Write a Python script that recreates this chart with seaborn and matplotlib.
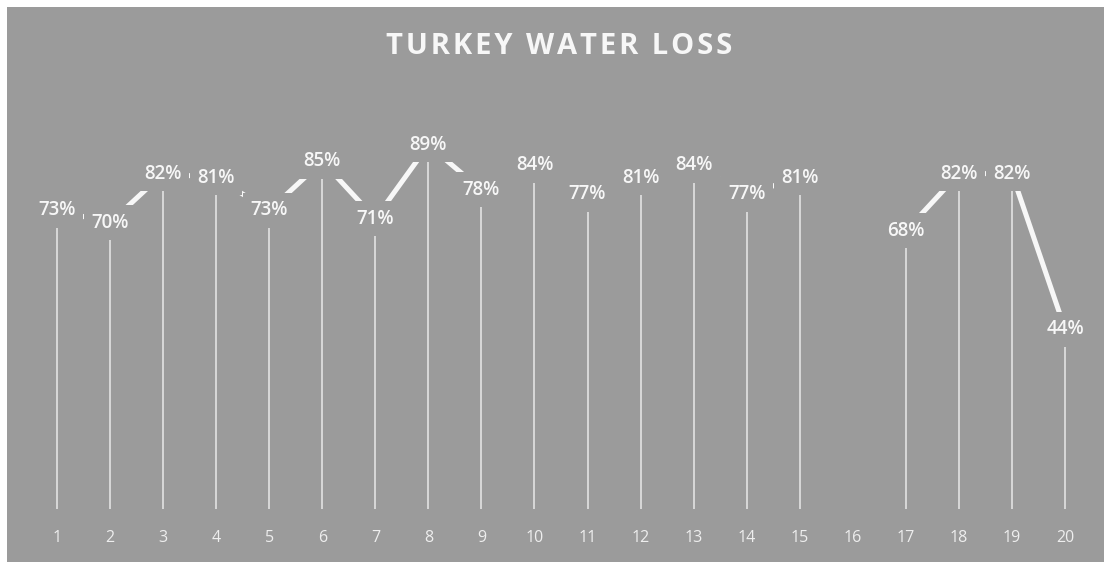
import numpy as np
import pandas as pd
import matplotlib
matplotlib.use("Agg")
import matplotlib.pyplot as plt
from matplotlib.patches import Rectangle
import seaborn as sns

# ---- data ----
categories = list(range(1, 21))
loss_pct = [73, 70, 82, 81, 73, 85, 71, 89, 78, 84, 77, 81, 84, 77, 81, np.nan, 68, 82, 82, 44]
tick_labels = [str(c) for c in categories]
title = "TURKEY WATER LOSS"

BG = "#9b9b9b"
WHITE = "#f7f7f7"

sns.set_theme(style="white")
plt.rcParams['font.family'] = ['Open Sans', 'DejaVu Sans']

W, H = 1108, 562
fig = plt.figure(figsize=(W / 100, H / 100), dpi=100, facecolor="white")
fig.patches.append(Rectangle((7 / W, 0), (W - 11) / W, (H - 7) / H,
                             transform=fig.transFigure, facecolor=BG,
                             edgecolor="none", zorder=-10))
ax = fig.add_axes([0, 0, 1, 1])
ax.set_facecolor("none")

# pixel mapping: x=1 at 57px, spacing 53.05px; y: 0% at 509px, 4.09 px/unit
px_x = 53.05
ax.set_xlim(1 - 57 / px_x, 20 + (W - 1065) / px_x)
px_y = 4.09
ax.set_ylim(-(H - 509) / px_y, 509 / px_y)

df = pd.DataFrame({"cat": categories, "val": loss_pct})
# contiguous segments so that the missing value breaks the line
df["seg"] = df["val"].isna().cumsum()
dfl = df.dropna()

# drop lines
ax.vlines(dfl["cat"], 0, dfl["val"], color="#e2e2e2", lw=1.2, zorder=1)

sns.lineplot(data=dfl, x="cat", y="val", units="seg", estimator=None,
             color=WHITE, lw=3.6, ax=ax, zorder=2, legend=False)

for c, v in zip(dfl["cat"], dfl["val"]):
    ax.text(c, v, f"{int(v)}%", ha="center", va="center", fontsize=13.5,
            fontweight="semibold", color=WHITE, zorder=3,
            bbox=dict(boxstyle="square,pad=0.4", facecolor=BG, edgecolor="none"))

tick_y = -(538 - 509) / px_y
for c, lab in zip(categories, tick_labels):
    ax.text(c, tick_y, lab, ha="center", va="center", fontsize=11.5,
            color="#eeeeee", zorder=3)

ax.set_xticks([])
ax.set_yticks([])
ax.set_xlabel("")
ax.set_ylabel("")
for s in ax.spines.values():
    s.set_visible(False)

fig.text(559.5 / W, 1 - 47 / H, "\u200a".join(title), ha="center", va="center",
         fontsize=21, fontweight="bold", color=WHITE)

fig.savefig("out.png", dpi=100, facecolor="white")
